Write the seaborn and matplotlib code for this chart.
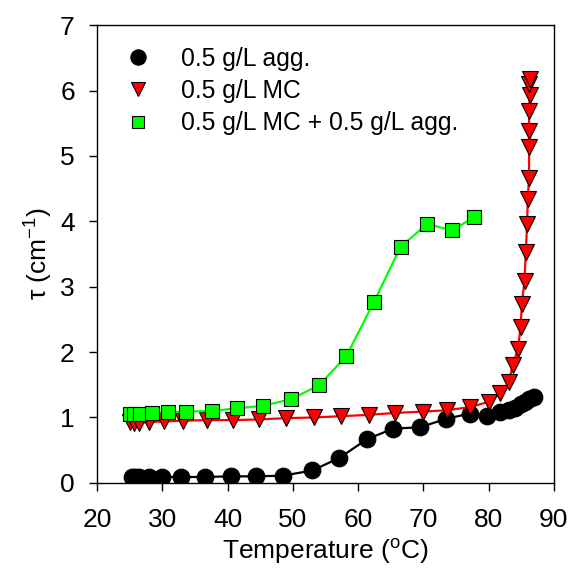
import numpy as np
import pandas as pd
import matplotlib
matplotlib.use("Agg")
import matplotlib.pyplot as plt
from matplotlib.lines import Line2D
import seaborn as sns

# 0.5 g/L agg.
agg_T = [25.3, 25.8, 26.5, 27.9, 30.0, 32.9, 36.5, 40.5, 44.4, 48.5, 53.0, 57.1,
         61.4, 65.4, 69.5, 73.5, 77.1, 79.8, 81.8, 83.1, 84.0, 84.9, 85.6, 86.2, 86.9]
agg_tau = [0.09, 0.09, 0.09, 0.09, 0.09, 0.09, 0.09, 0.10, 0.10, 0.11, 0.19, 0.38,
           0.67, 0.83, 0.85, 0.98, 1.06, 1.03, 1.09, 1.11, 1.14, 1.20, 1.24, 1.28, 1.31]

# 0.5 g/L MC
mc_T = [25.1, 25.6, 26.5, 28.0, 30.3, 33.1, 36.8, 40.9, 44.8, 49.0, 53.2, 57.4,
        61.6, 65.7, 69.9, 73.6, 77.2, 80.0, 81.8, 83.1, 83.7, 84.5, 84.9, 85.1,
        85.5, 85.7, 85.9, 86.0, 86.2, 86.2, 86.2, 86.2, 86.3, 86.2, 86.3]
mc_tau = [0.93, 0.92, 0.92, 0.93, 0.94, 0.95, 0.96, 0.96, 0.97, 0.99, 1.00, 1.02,
          1.04, 1.07, 1.09, 1.11, 1.16, 1.24, 1.37, 1.54, 1.80, 2.05, 2.38, 2.74,
          3.09, 3.53, 3.96, 4.34, 4.67, 5.13, 5.38, 5.69, 5.94, 6.10, 6.17]

# 0.5 g/L MC + 0.5 g/L agg.
mix_T = [25.1, 25.6, 26.6, 28.4, 30.8, 33.7, 37.6, 41.4, 45.5, 49.7, 54.0, 58.2,
         62.4, 66.5, 70.6, 74.4, 77.7]
mix_tau = [1.05, 1.06, 1.06, 1.07, 1.08, 1.09, 1.10, 1.14, 1.18, 1.28, 1.49, 1.94,
           2.76, 3.61, 3.96, 3.86, 4.06]

labels = ["0.5 g/L agg.", "0.5 g/L MC", "0.5 g/L MC + 0.5 g/L agg."]
colors = ["black", "#ff0000", "#00ff00"]
markers = ["o", "v", "s"]
msizes = [12, 11, 10]

sns.set_style("ticks")
plt.rcParams["font.family"] = ["Liberation Sans", "DejaVu Sans"]
plt.rcParams["mathtext.fontset"] = "custom"
plt.rcParams["mathtext.rm"] = "Liberation Sans"
plt.rcParams["mathtext.it"] = "Liberation Sans"
for key in ["text.color", "axes.labelcolor", "xtick.color", "ytick.color", "axes.edgecolor"]:
    plt.rcParams[key] = "black"

fig = plt.figure(figsize=(5.71, 5.86), dpi=100)
ax = fig.add_axes([0.170, 0.176, 0.800, 0.781])

series = [(agg_T, agg_tau), (mc_T, mc_tau), (mix_T, mix_tau)]
for (T, tau), lab, c, m, ms in zip(series, labels, colors, markers, msizes):
    df = pd.DataFrame({"T": T, "tau": tau})
    sns.lineplot(data=df, x="T", y="tau", ax=ax, color=c, marker=m, markersize=ms,
                 markeredgecolor="black", markeredgewidth=0.8, linewidth=1.6,
                 estimator=None, sort=False, legend=False)

ax.set_xlim(20, 90)
ax.set_ylim(0, 7)
ax.set_xticks(range(20, 91, 10))
ax.set_yticks(range(0, 8))
ax.tick_params(axis="x", labelsize=19, length=6, width=1, pad=12, direction="out")
ax.tick_params(axis="y", labelsize=19, length=6, width=1, pad=10, direction="out")
for s in ax.spines.values():
    s.set_linewidth(1)
    s.set_color("black")
ax.set_xlabel(r"Temperature ($^{\mathrm{o}}$C)", fontsize=19, labelpad=4)
ax.set_ylabel(r"τ (cm$^{-1}$)", fontsize=19, labelpad=4)

handles = [Line2D([], [], linestyle="none", marker=m, color=c, markersize=ms,
                  markeredgecolor="black", markeredgewidth=0.8)
           for c, m, ms in zip(colors, markers, [11, 9.5, 8.5])]
ax.legend(handles, labels, loc="upper left", bbox_to_anchor=(0.0, 1.0), frameon=False,
          fontsize=17.8, handlelength=1.55, handletextpad=0.95, labelspacing=0.33,
          borderaxespad=0.48)

fig.savefig("out.png", dpi=100)
